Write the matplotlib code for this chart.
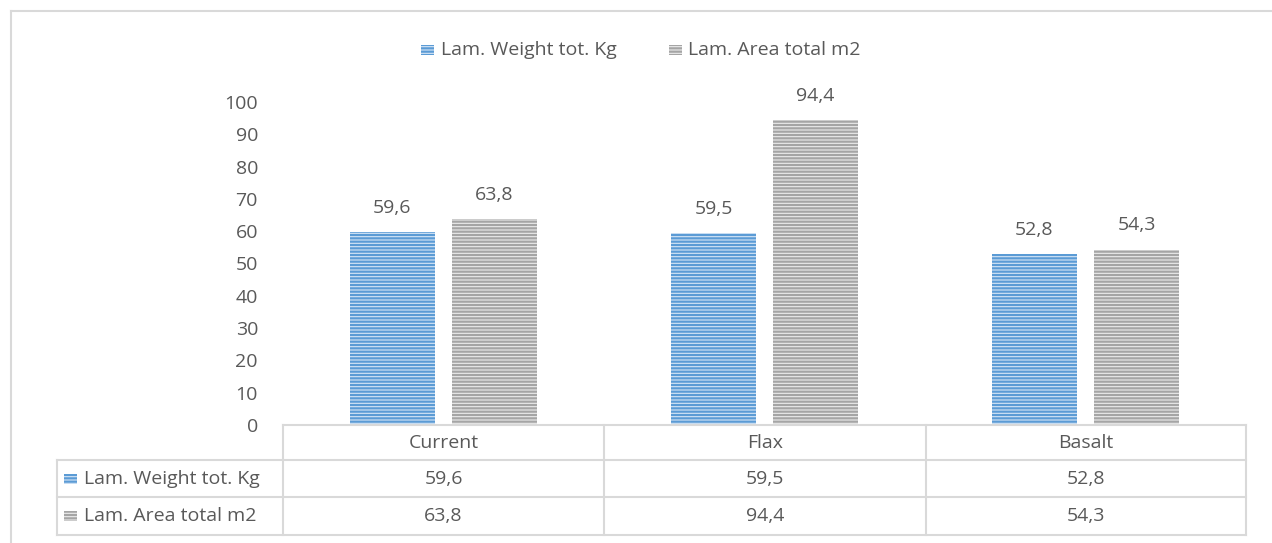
import matplotlib.pyplot as plt
from matplotlib.patches import Rectangle
from matplotlib.lines import Line2D

categories = ['Current', 'Flax', 'Basalt']
series_names = ['Lam. Weight tot. Kg', 'Lam. Area total m2']
weight = [59.6, 59.5, 52.8]
area = [63.8, 94.4, 54.3]
yticks = [0, 10, 20, 30, 40, 50, 60, 70, 80, 90, 100]

face = ['#d6e6f6', '#ececec']
stripe = ['#5b9bd5', '#a5a5a5']
txt = '#595959'
grid = '#d9d9d9'
fs = 14

plt.rcParams['font.family'] = ['Open Sans', 'DejaVu Sans']
plt.rcParams['hatch.linewidth'] = 1.6

W, H = 1272, 543
fig = plt.figure(figsize=(W / 100, H / 100), dpi=100)

def fx(px):
    return px / W

def fy(py):
    return 1 - py / H

ax_l, ax_r, ax_b, ax_t = 283, 1246, 425, 102
ax = fig.add_axes([fx(ax_l), fy(ax_b), fx(ax_r - ax_l), fy(ax_t) - fy(ax_b)])

x = range(len(categories))
bw = 0.262
off = 0.159
for k, vals in enumerate([weight, area]):
    pos = [i + (-off if k == 0 else off) for i in x]
    bars = ax.bar(pos, vals, bw, color=face[k], edgecolor=stripe[k],
                  hatch='-----', linewidth=0)
    for b, v in zip(bars, vals):
        ax.annotate(f'{v:.1f}'.replace('.', ','), (b.get_x() + b.get_width() / 2, v),
                    xytext=(0, 11), textcoords='offset points', ha='center',
                    va='bottom', fontsize=fs, color=txt)

ax.set_xlim(-0.5, 2.5)
ax.set_ylim(0, 100)
ax.set_yticks(yticks)
ax.set_yticklabels([str(t) for t in yticks], fontsize=fs, color=txt)
ax.tick_params(axis='y', length=0, pad=18)
ax.set_xticks([])
for s in ax.spines.values():
    s.set_visible(False)

# outer chart border
fig.add_artist(Line2D([fx(11), fx(11)], [fy(11), 0], color=grid, lw=1.5))
fig.add_artist(Line2D([fx(11), 1], [fy(11), fy(11)], color=grid, lw=1.5))

# data table under the plot
col_edges = [283, 604, 926, 1246]
row_edges = [425, 460, 497, 535]
tab_left = 57

def hline(y, x0, x1):
    fig.add_artist(Line2D([fx(x0), fx(x1)], [fy(y), fy(y)], color=grid, lw=1.5))

def vline(x0, y0, y1):
    fig.add_artist(Line2D([fx(x0), fx(x0)], [fy(y0), fy(y1)], color=grid, lw=1.5))

hline(row_edges[0], col_edges[0], col_edges[-1])
for y in row_edges[1:]:
    hline(y, tab_left, col_edges[-1])
vline(tab_left, row_edges[1], row_edges[-1])
for c in col_edges:
    vline(c, row_edges[0], row_edges[-1])

for i, cat in enumerate(categories):
    cx = (col_edges[i] + col_edges[i + 1]) / 2
    fig.text(fx(cx), fy((row_edges[0] + row_edges[1]) / 2), cat, ha='center',
             va='center', fontsize=fs, color=txt)

for r, vals in enumerate([weight, area]):
    cy = (row_edges[r + 1] + row_edges[r + 2]) / 2
    fig.add_artist(Rectangle((fx(64), fy(cy + 5)), fx(13), fy(cy - 5) - fy(cy + 5),
                             facecolor=face[r], edgecolor=stripe[r], hatch='-----',
                             linewidth=0, transform=fig.transFigure))
    fig.text(fx(84), fy(cy), series_names[r], ha='left', va='center',
             fontsize=fs, color=txt)
    for i, v in enumerate(vals):
        cx = (col_edges[i] + col_edges[i + 1]) / 2
        fig.text(fx(cx), fy(cy), f'{v:.1f}'.replace('.', ','), ha='center',
                 va='center', fontsize=fs, color=txt)

# legend on top
leg_y = 50
for mx, tx, r in [(421, 441, 0), (669, 688, 1)]:
    fig.add_artist(Rectangle((fx(mx), fy(leg_y + 5)), fx(13), fy(leg_y - 5) - fy(leg_y + 5),
                             facecolor=face[r], edgecolor=stripe[r], hatch='-----',
                             linewidth=0, transform=fig.transFigure))
    fig.text(fx(tx), fy(leg_y), series_names[r], ha='left', va='center',
             fontsize=fs, color=txt)

fig.savefig('out.png', dpi=100, facecolor='white')
